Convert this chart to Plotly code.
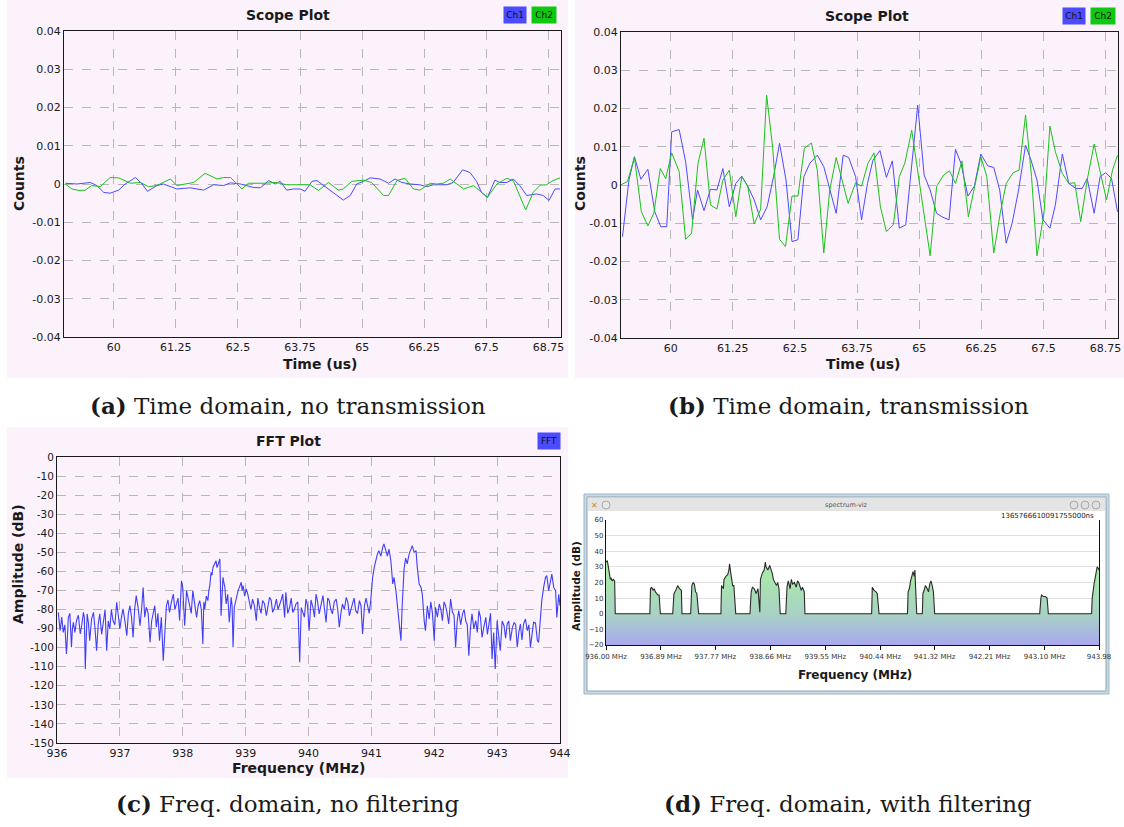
import plotly.graph_objects as go

W, H = 1124, 827
def fx(p): return p / W
def fy(p): return 1 - p / H

# ---------------- data ----------------
time_ticks = [60, 61.25, 62.5, 63.75, 65, 66.25, 67.5, 68.75]
time_tick_labels = ["60", "61.25", "62.5", "63.75", "65", "66.25", "67.5", "68.75"]
count_ticks = [0.04, 0.03, 0.02, 0.01, 0, -0.01, -0.02, -0.03, -0.04]
count_tick_labels = ["0.04", "0.03", "0.02", "0.01", "0", "-0.01", "-0.02", "-0.03", "-0.04"]

# (a) no transmission
a_t_ch1 = [59.03, 59.26, 59.53, 59.66, 59.80, 59.93, 60.10, 60.23, 60.44, 60.57, 60.68, 60.87, 61.00,
           61.27, 61.54, 61.81, 62.01, 62.21, 62.35, 62.55, 62.81, 62.95, 63.12, 63.25, 63.35, 63.48,
           63.62, 63.75, 63.85, 63.99, 64.09, 64.22, 64.42, 64.62, 64.76, 64.89, 65.03, 65.16, 65.36,
           65.53, 65.66, 65.80, 65.96, 66.16, 66.30, 66.43, 66.70, 66.83, 67.02, 67.17, 67.30, 67.40,
           67.52, 67.67, 67.77, 67.91, 68.04, 68.17, 68.31, 68.51, 68.64, 68.76, 68.88, 68.98]
a_ch1 = [0.0002, 0, 0.0004, -0.0004, -0.0022, -0.0024, -0.0016, 0, 0.0017, 0, -0.0019, -0.0004, 0,
         -0.0013, -0.001, -0.0016, -0.0002, -0.0004, 0.0003, 0, -0.0009, -0.001, 0.0009, 0, 0.0007,
         -0.0016, -0.0013, -0.0013, -0.0019, 0.0007, 0.0009, -0.0004, -0.0024, -0.0042, -0.003, 0,
         0.0007, 0.0016, 0.0013, 0.0002, 0.0013, 0.0004, 0, -0.0002, -0.0007, -0.0002, -0.0002, 0.0004,
         0.0037, 0.003, 0.0007, -0.0022, -0.0035, 0.001, 0.0004, 0.0004, 0.0013, -0.0004, -0.003,
         -0.0026, -0.003, -0.0043, -0.0013, -0.0013]
a_t_ch2 = [59.03, 59.16, 59.30, 59.43, 59.56, 59.73, 59.93, 60.10, 60.34, 60.54, 60.70, 60.87, 61.14,
           61.27, 61.44, 61.61, 61.84, 62.08, 62.21, 62.35, 62.58, 62.71, 63.02, 63.28, 63.48, 63.75,
           63.95, 64.12, 64.32, 64.52, 64.62, 64.79, 65.03, 65.19, 65.43, 65.53, 65.70, 65.86, 66.03,
           66.16, 66.37, 66.50, 66.63, 66.77, 66.90, 67.04, 67.24, 67.40, 67.52, 67.71, 67.91, 68.04,
           68.17, 68.29, 68.44, 68.58, 68.71, 68.84, 68.98]
a_ch2 = [0, -0.0013, -0.0017, -0.0016, -0.0004, -0.0007, 0.0017, 0.0016, 0.0002, 0.0004, -0.0007,
         -0.0004, 0.0013, -0.0004, 0, 0.0004, 0.0028, 0.0013, 0.0017, 0.0017, -0.0013, 0.0002, 0.0002,
         0.0004, -0.0002, -0.0002, -0.0002, -0.0017, 0.0004, -0.0016, -0.0013, 0.0007, 0.001, 0.0004,
         -0.003, -0.003, 0.0009, 0.0015, -0.0013, -0.0016, 0.0002, 0, 0.0002, 0.0013, 0, -0.0013,
         -0.0004, -0.0022, -0.0035, 0, 0.0015, 0.0009, -0.003, -0.0068, -0.0022, -0.0003, -0.0002,
         0.0009, 0.0016]

# (b) transmission
b_t_ch1 = [59.03, 59.16, 59.27, 59.40, 59.54, 59.68, 59.80, 59.92, 60.02, 60.17, 60.30, 60.44, 60.54,
           60.67, 60.80, 60.93, 61.05, 61.18, 61.31, 61.43, 61.55, 61.68, 61.81, 61.94, 62.07, 62.19,
           62.32, 62.44, 62.56, 62.68, 62.80, 62.95, 63.08, 63.20, 63.33, 63.47, 63.58, 63.72, 63.84,
           63.96, 64.07, 64.21, 64.34, 64.46, 64.60, 64.73, 64.97, 65.10, 65.22, 65.35, 65.47, 65.60,
           65.73, 65.84, 65.98, 66.11, 66.24, 66.38, 66.50, 66.62, 66.75, 66.87, 67.00, 67.14, 67.25,
           67.37, 67.49, 67.63, 67.74, 67.88, 68.01, 68.15, 68.28, 68.38, 68.52, 68.64, 68.75, 68.87,
           68.99]
b_ch1 = [-0.0135, 0.0013, 0.0074, 0.0015, 0.0041, -0.007, -0.0109, -0.0109, 0.0139, 0.0145, 0.0061,
         -0.0091, -0.0013, -0.0067, -0.0011, -0.0013, 0.0043, -0.0057, 0.0004, 0.0023, -0.0003,
         -0.0039, -0.0091, -0.0057, 0.0022, 0.0109, 0.0013, -0.0148, -0.0143, 0.0022, 0.0057, 0.0078,
         0.0048, -0.0013, -0.0074, 0.0078, 0.0072, 0.0022, -0.0091, 0.0004, 0.0065, 0.009, 0.002,
         0.0063, -0.0113, -0.0104, 0.0209, 0.0026, -0.0013, -0.0074, -0.0084, -0.0091, 0.0093, 0.0057,
         -0.0029, -0.0003, 0.0081, 0.005, 0.0046, -0.0013, -0.0152, -0.01, -0.0013, 0.0104, 0.0065,
         0.0013, -0.0091, -0.0113, -0.0052, 0.0081, 0.0004, -0.0009, -0.0009, 0.0017, -0.0074, 0.0022,
         0.0032, 0.0017, -0.007]
b_t_ch2 = [58.99, 59.13, 59.27, 59.41, 59.54, 59.66, 59.79, 59.90, 60.02, 60.17, 60.30, 60.42, 60.55,
           60.67, 60.80, 60.93, 61.05, 61.18, 61.31, 61.43, 61.55, 61.68, 61.81, 61.93, 62.05, 62.19,
           62.31, 62.44, 62.56, 62.69, 62.83, 62.95, 63.08, 63.20, 63.33, 63.45, 63.57, 63.72, 63.84,
           63.97, 64.09, 64.22, 64.34, 64.48, 64.60, 64.71, 64.85, 65.22, 65.35, 65.49, 65.61, 65.73,
           65.86, 65.99, 66.11, 66.24, 66.36, 66.50, 66.63, 66.75, 66.89, 67.01, 67.14, 67.26, 67.37,
           67.51, 67.63, 67.74, 67.88, 68.01, 68.13, 68.25, 68.38, 68.52, 68.64, 68.77, 68.89, 68.99]
b_ch2 = [0, 0.0009, 0.0072, -0.007, -0.0107, -0.0074, 0.0043, 0.0017, 0.0084, 0.0035, -0.0142,
         -0.0126, 0.0057, 0.0122, -0.0052, -0.0063, 0.0013, 0.0039, -0.0083, 0.0022, -0.0003, -0.0102,
         -0.0063, 0.0235, 0.01, -0.0142, -0.0161, -0.0029, -0.0029, 0.0096, 0.011, 0.0039, -0.0178,
         -0.0013, 0.0072, 0.0013, -0.0048, 0.0006, -0.0003, 0.0057, 0.0084, -0.0057, -0.0122, -0.0104,
         0.0022, 0.0057, 0.0143, -0.0185, -0.0004, 0.0026, 0.0037, 0.0004, 0.0063, -0.0083, -0.0004,
         0.0074, 0.0022, -0.0178, -0.0074, 0.0004, 0.0032, 0.0039, 0.0183, 0.0022, -0.0185, -0.0074,
         0.0154, 0.0087, 0.003, 0.0004, 0.0006, -0.0096, 0.0013, 0.0107, 0.0035, -0.0039, 0.0039, 0.0078]

# (c) FFT, no filtering (two passes of readings, merged by frequency)
fft_ticks = [936, 937, 938, 939, 940, 941, 942, 943, 944]
db_ticks = [0, -10, -20, -30, -40, -50, -60, -70, -80, -90, -100, -110, -120, -130, -140, -150]
fft_freq = [936.02, 936.05, 936.10, 936.15, 936.18, 936.23, 936.26, 936.31, 936.37, 936.42, 936.45,
            936.48, 936.52, 936.58, 936.63, 936.68, 936.74, 936.79, 936.84, 936.89, 936.95, 937.00,
            937.05, 937.11, 937.16, 937.21, 937.26, 937.32, 937.37, 937.42, 937.48, 937.53, 937.58,
            937.63, 937.69, 937.74, 937.79, 937.85, 937.90, 937.95, 937.98, 938.00, 938.03, 938.06,
            938.11, 938.16, 938.22, 938.27, 938.32, 938.35, 938.40, 938.43, 938.45, 938.48, 938.53,
            938.56, 938.59, 938.61, 938.64, 938.67, 938.69, 938.74, 938.77, 938.80, 938.82, 938.88,
            938.93, 938.96, 939.01, 939.06, 939.11, 939.17, 939.22, 939.27, 939.33, 939.38, 939.43,
            939.49, 939.54, 939.59, 939.62, 939.64, 939.70, 939.75, 939.80, 939.86, 939.91, 939.96,
            940.01, 940.07, 940.12, 940.17, 940.23, 940.28, 940.33, 940.38, 940.44, 940.49, 940.54,
            940.60, 940.65, 940.70, 940.75, 940.81, 940.86, 940.89, 940.94, 940.99, 941.02, 941.07,
            941.12, 941.18, 941.20, 941.23, 941.28, 941.31, 941.34, 941.36, 941.39, 941.41, 941.44,
            941.47, 941.49, 941.52, 941.57, 941.60, 941.63, 941.65, 941.68, 941.71, 941.73, 941.76,
            941.79, 941.81, 941.84, 941.86, 941.89, 941.92, 941.97, 942.00, 942.02, 942.08, 942.13,
            942.18, 942.23, 942.26, 942.29, 942.34, 942.39, 942.45, 942.50, 942.55, 942.60, 942.66,
            942.71, 942.76, 942.82, 942.87, 942.92, 942.97, 943.00, 943.05, 943.11, 943.16, 943.21,
            943.27, 943.32, 943.37, 943.42, 943.48, 943.53, 943.58, 943.64, 943.66, 943.69, 943.71,
            943.74, 943.77, 943.79, 943.82, 943.85, 943.87, 943.90, 943.93, 943.95, 943.98, 944.00]
fft_db = [-81.5, -91.1, -92.0, -103.3, -84.1, -99.8, -86.7, -85.8, -92.8, -81.5, -111.2,
          -82.3, -96.3, -81.5, -101.6, -82.3, -85.0, -101.6, -90.2, -85.8, -76.2, -90.2,
          -79.7, -93.7, -78.0, -94.6, -72.7, -88.5, -68.4, -78.8, -97.2, -81.5, -89.3,
          -96.3, -106.8, -78.0, -81.5, -71.9, -77.1, -85.8, -64.9, -68.4, -88.5, -70.1,
          -78.8, -70.1, -84.1, -75.3, -98.1, -79.7, -75.3, -67.5, -60.5, -57.9, -54.4,
          -56.1, -53.5, -83.2, -63.1, -68.4, -77.1, -86.7, -73.6, -99.8, -78.8, -70.1,
          -65.7, -67.5, -69.2, -77.1, -74.5, -85.8, -78.8, -75.3, -83.2, -73.6, -81.5,
          -74.5, -78.0, -71.9, -84.1, -71.0, -78.8, -81.5, -77.1, -107.7, -81.5, -74.5,
          -91.1, -78.8, -71.9, -82.3, -72.7, -86.7, -75.3, -82.3, -74.5, -89.3, -77.1,
          -73.6, -83.2, -77.1, -80.6, -75.3, -92.8, -78.0, -78.8, -75.3, -63.1, -54.4,
          -49.1, -47.4, -45.6, -49.1, -48.3, -54.4, -66.6, -63.1, -70.1, -76.2, -84.1,
          -96.3, -78.0, -58.7, -56.1, -50.9, -47.4, -46.5, -50.0, -49.1, -57.9, -66.6,
          -68.4, -71.9, -85.8, -91.1, -78.0, -85.0, -81.5, -96.3, -78.8, -77.1, -85.8,
          -78.0, -87.6, -74.5, -81.5, -99.8, -80.6, -82.3, -85.8, -104.2, -82.3, -85.8,
          -80.6, -94.6, -84.1, -87.6, -105.9, -111.2, -85.8, -101.6, -88.5, -87.6, -96.3,
          -86.7, -99.8, -87.6, -87.6, -91.1, -99.8, -86.7, -96.3, -97.2, -82.3, -75.3,
          -68.4, -63.1, -62.2, -70.1, -64.9, -61.4, -68.4, -70.1, -84.1, -72.0, -78.0]
fft_freq_extra = [936.035, 936.075, 936.125, 936.165, 936.205, 936.245, 936.285, 936.34, 936.395, 936.435,
                  936.465, 936.50, 936.55, 936.605, 936.655, 936.71, 936.765, 936.815, 936.865, 936.92,
                  936.975, 937.025, 937.08, 937.135, 937.185, 937.235, 937.29, 937.345, 937.395, 937.45,
                  937.505, 937.555, 937.605, 937.66, 937.715, 937.765, 937.82, 937.875, 937.925, 937.965,
                  938.015, 938.045, 938.085, 938.135, 938.19, 938.245, 938.295, 938.335, 938.375, 938.415,
                  938.465, 938.51, 938.545, 938.575, 938.655, 938.715, 938.755, 938.785, 938.85, 938.905,
                  938.945, 938.985, 939.035, 939.085, 939.14, 939.195, 939.245, 939.30, 939.355, 939.405,
                  939.46, 939.515, 939.565, 939.67, 939.725, 939.775, 939.83, 939.885, 939.935, 939.985,
                  940.04, 940.095, 940.145, 940.20, 940.255, 940.305, 940.355, 940.41, 940.465, 940.515,
                  940.57, 940.625, 940.675, 940.725, 940.78, 940.835, 940.915, 940.965, 941.045, 941.095,
                  941.15, 941.255, 941.545, 941.945, 942.05, 942.105, 942.155, 942.205, 942.315, 942.365,
                  942.42, 942.475, 942.525, 942.575, 942.63, 942.685, 942.735, 942.79, 942.845, 942.895,
                  942.945, 943.025, 943.08, 943.135, 943.185, 943.24, 943.295, 943.345, 943.395, 943.45,
                  943.505, 943.555, 943.61]
fft_db_extra = [-86, -84, -88, -95, -82, -90, -92, -83, -88, -84,
                -95, -87, -85, -90, -88, -93, -80, -86, -80, -88,
                -82, -84, -86, -82, -84, -80, -79, -80, -84, -82,
                -86, -78, -82, -84, -88, -75, -76, -80, -74, -76,
                -76, -80, -74, -82, -76, -78, -80, -76, -73, -70,
                -62, -56, -58, -55, -66, -72, -80, -78, -74, -68,
                -70, -73, -72, -80, -78, -74, -82, -77, -79, -75,
                -79, -80, -75, -82, -74, -80, -76, -79, -84, -78,
                -75, -84, -76, -78, -80, -74, -80, -76, -80, -82,
                -80, -76, -80, -74, -82, -78, -74, -82, -58, -51,
                -52, -52, -53, -76, -84, -80, -76, -82, -83, -86,
                -88, -80, -88, -90, -90, -92, -84, -89, -93, -82,
                -92, -94, -86, -95, -86, -90, -88, -92, -96, -85,
                -88, -93, -87]

# (d) FFT with filtering
viz_tick_labels = ["936.00 MHz", "936.89 MHz", "937.77 MHz", "938.66 MHz", "939.55 MHz",
                   "940.44 MHz", "941.32 MHz", "942.21 MHz", "943.10 MHz", "943.98"]
viz_tick_vals = [936.00, 936.89, 937.77, 938.66, 939.55, 940.44, 941.32, 942.21, 943.10, 943.98]
viz_freq = [936.00, 936.02, 936.03, 936.05, 936.07, 936.08, 936.10, 936.12, 936.14, 936.15,
            936.71, 936.72, 936.74, 936.76, 936.78, 936.80, 936.82, 936.84, 936.86, 936.88,
            937.08, 937.10, 937.13, 937.16, 937.19, 937.22, 937.23,
            937.37, 937.39, 937.41, 937.43, 937.45, 937.47, 937.50,
            937.86, 937.87, 937.90, 937.91, 937.94, 937.97, 937.99, 938.00, 938.02, 938.04, 938.05, 938.07, 938.10,
            938.33, 938.35, 938.37, 938.40, 938.43, 938.46, 938.47, 938.49, 938.50, 938.53, 938.56, 938.58,
            938.59, 938.62, 938.65, 938.66, 938.69, 938.71, 938.74, 938.76, 938.78, 938.80, 938.82,
            938.91, 938.93, 938.95, 938.98, 939.00, 939.02, 939.05, 939.08, 939.10, 939.12, 939.14, 939.16,
            939.18, 939.21, 939.22,
            940.30, 940.31, 940.34, 940.37, 940.39, 940.42,
            940.88, 940.89, 940.91, 940.93, 940.95, 940.97, 940.99, 941.00, 941.01, 941.03,
            941.12, 941.13, 941.15, 941.17, 941.20, 941.22, 941.24, 941.26, 941.28, 941.30, 941.32,
            943.02, 943.04, 943.05, 943.08, 943.11, 943.14, 943.16,
            943.86, 943.87, 943.90, 943.93, 943.95, 943.97, 943.98]
viz_db = [33, 34, 32, 25, 22, 23, 21, 22, 21, 0,
          0, 16, 17, 15, 16, 14, 13, 12, 12, 0,
          0, 13, 15, 18, 16, 15, 0,
          0, 18, 20, 19, 14, 13, 0,
          0, 18, 16, 22, 24, 25, 28, 32, 26, 22, 18, 18, 0,
          0, 14, 17, 16, 13, 16, 11, 1, 22, 26, 28, 33,
          30, 28, 31, 30, 26, 22, 20, 18, 20, 16, 0,
          0, 17, 21, 16, 22, 19, 20, 17, 21, 20, 18, 15,
          17, 14, 0,
          0, 17, 15, 14, 13, 0,
          0, 14, 16, 21, 25, 27, 24, 28, 18, 0,
          0, 13, 15, 18, 16, 14, 19, 21, 18, 14, 0,
          0, 10, 12, 11, 11, 10, 0,
          0, 10, 19, 26, 30, 29, 28]
viz_floor = [-20, -20]
viz_floor_freq = [936.00, 943.98]

# ---------------- style ----------------
PINK = "#fcf2fb"
BLUE = "#4b4bff"
GREEN = "#16c416"
GRID = "#b8b8b8"
FONT = "DejaVu Sans"
INK = "#1a1a1a"

fft_pairs = sorted(zip(fft_freq + fft_freq_extra, fft_db + fft_db_extra))
fft_x = [p[0] for p in fft_pairs]
fft_y = [p[1] for p in fft_pairs]

fig = go.Figure()

fig.add_trace(go.Scatter(x=a_t_ch1, y=a_ch1, mode="lines", line=dict(color=BLUE, width=1), xaxis="x", yaxis="y"))
fig.add_trace(go.Scatter(x=a_t_ch2, y=a_ch2, mode="lines", line=dict(color=GREEN, width=1), xaxis="x", yaxis="y"))
fig.add_trace(go.Scatter(x=b_t_ch1, y=b_ch1, mode="lines", line=dict(color=BLUE, width=1), xaxis="x2", yaxis="y2"))
fig.add_trace(go.Scatter(x=b_t_ch2, y=b_ch2, mode="lines", line=dict(color=GREEN, width=1), xaxis="x2", yaxis="y2"))
fig.add_trace(go.Scatter(x=fft_x, y=fft_y, mode="lines", line=dict(color="#3f3ff5", width=1.1), xaxis="x3", yaxis="y3"))
fig.add_trace(go.Scatter(x=viz_floor_freq, y=viz_floor, mode="lines", line=dict(width=0), xaxis="x4", yaxis="y4"))
fig.add_trace(go.Scatter(x=viz_freq, y=viz_db, mode="lines", line=dict(color="#2b2b2b", width=1.1),
                         fill="tonexty",
                         fillgradient=dict(type="vertical", start=-20, stop=35,
                                           colorscale=[[0, "#aaa8f0"], [0.36, "#a8d2c4"], [1, "#a9f0a0"]]),
                         xaxis="x4", yaxis="y4"))

def frame_axis(**kw):
    d = dict(showline=True, linecolor=INK, linewidth=1, mirror=True, ticks="", automargin=False,
             showgrid=True, gridcolor=GRID, griddash="dash", gridwidth=1, zeroline=False,
             tickfont=dict(family=FONT, size=11, color=INK))
    d.update(kw)
    return d

layout = dict(
    width=W, height=H, margin=dict(l=0, r=0, t=0, b=0, pad=0, autoexpand=False),
    paper_bgcolor="white", plot_bgcolor="rgba(0,0,0,0)", showlegend=False,
    xaxis=frame_axis(domain=[fx(64), fx(561)], range=[59, 69], tickvals=time_ticks, ticktext=time_tick_labels, anchor="y"),
    yaxis=frame_axis(domain=[fy(337), fy(31)], range=[-0.04, 0.04], tickvals=count_ticks, ticktext=count_tick_labels, anchor="x"),
    xaxis2=frame_axis(domain=[fx(621), fx(1118)], range=[59, 69], tickvals=time_ticks, ticktext=time_tick_labels, anchor="y2"),
    yaxis2=frame_axis(domain=[fy(338), fy(32)], range=[-0.04, 0.04], tickvals=count_ticks, ticktext=count_tick_labels, anchor="x2"),
    xaxis3=frame_axis(domain=[fx(57), fx(560)], range=[936, 944], tickvals=fft_ticks, ticktext=[str(v) for v in fft_ticks], anchor="y3"),
    yaxis3=frame_axis(domain=[fy(743), fy(457)], range=[-150, 0], tickvals=db_ticks, ticktext=[str(v) for v in db_ticks], anchor="x3",
                      tickfont=dict(family=FONT, size=10.5, color=INK)),
    xaxis4=dict(domain=[fx(606), fx(1099)], range=[936.0, 943.98], tickvals=viz_tick_vals, ticktext=viz_tick_labels,
                showline=True, linecolor="#111", linewidth=1.2, ticks="outside", ticklen=4, tickcolor="#111",
                showgrid=False, zeroline=False, anchor="y4", automargin=False,
                tickfont=dict(family=FONT, size=7, color="#333")),
    yaxis4=dict(domain=[fy(645), fy(520)], range=[-20, 60], dtick=10, showline=True, linecolor="#111", linewidth=1.2,
                mirror=True, ticks="", showgrid=True, gridcolor="#e2e2e2", zeroline=False, anchor="x4", automargin=False,
                tickfont=dict(family=FONT, size=7, color="#333")),
)

def rect(x0, y0, x1, y1, fill, line=None, lw=0, layer="below"):
    return dict(type="rect", xref="paper", yref="paper", x0=fx(x0), x1=fx(x1), y0=fy(y1), y1=fy(y0),
                fillcolor=fill, line=dict(color=line or fill, width=lw), layer=layer)

def circ(cx, cy, r, fill, line):
    return dict(type="circle", xref="paper", yref="paper", x0=fx(cx - r), x1=fx(cx + r), y0=fy(cy + r), y1=fy(cy - r),
                fillcolor=fill, line=dict(color=line, width=0.8), layer="above")

shapes = [
    rect(7, 0, 568, 378, PINK),
    rect(575, 0, 1124, 378, PINK),
    rect(7, 427, 568, 778, PINK),
    rect(584, 494, 1109, 694, "#c9d9e2", "#9db7c6", 1),
    rect(587, 497, 1106, 691, "white", "#8aa5b5", 1),
    rect(588, 498, 1105, 511, "#e4e4e4"),
    circ(606, 505, 4, "#e8e8e8", "#999"),
    circ(1074, 505, 4, "#e0e0e0", "#999"),
    circ(1085, 505, 4, "#e0e0e0", "#999"),
    circ(1096, 505, 4, "#e0e0e0", "#999"),
]
layout["shapes"] = shapes

def ann(x, y, text, size, color=INK, family=FONT, angle=0, xanchor="center", **kw):
    d = dict(xref="paper", yref="paper", x=fx(x), y=fy(y), text=text, showarrow=False, textangle=angle,
             xanchor=xanchor, yanchor="middle", font=dict(family=family, size=size, color=color))
    d.update(kw)
    return d

def badge(x, y, text, bg, w):
    return ann(x, y, text, 9, color="#111", bgcolor=bg, width=w, height=16, borderpad=0)

serif = "DejaVu Serif"
annotations = [
    ann(288, 15, "<b>Scope Plot</b>", 14),
    badge(515, 15, "Ch1", BLUE, 22), badge(544, 15, "Ch2", "#10c810", 24),
    ann(19, 184, "<b>Counts</b>", 14, angle=-90),
    ann(320, 364, "<b>Time (us)</b>", 14),
    ann(867, 16, "<b>Scope Plot</b>", 14),
    badge(1074, 16, "Ch1", BLUE, 22), badge(1103, 16, "Ch2", "#10c810", 24),
    ann(580, 184, "<b>Counts</b>", 14, angle=-90),
    ann(863, 364, "<b>Time (us)</b>", 14),
    ann(288, 441, "<b>FFT Plot</b>", 14),
    badge(549, 441, "FFT", BLUE, 22),
    ann(18, 564, "<b>Amplitude (dB)</b>", 14, angle=-90),
    ann(298, 768, "<b>Frequency (MHz)</b>", 14),
    ann(846, 505, "spectrum-viz", 6.5, color="#555"),
    ann(594, 505, "<b>✕</b>", 8, color="#d98a20"),
    ann(1096, 516, "1365766610091755000ns", 7, color="#222", xanchor="right"),
    ann(855, 675, "<b>Frequency (MHz)</b>", 12),
    ann(576, 586, "<b>Amplitude (dB)</b>", 10.5, angle=-90),
    ann(288, 406, "<b>(a)</b> Time domain, no transmission", 23, family=serif),
    ann(848, 406, "<b>(b)</b> Time domain, transmission", 23, family=serif),
    ann(288, 803, "<b>(c)</b> Freq. domain, no filtering", 23, family=serif),
    ann(848, 803, "<b>(d)</b> Freq. domain, with filtering", 23, family=serif),
]
layout["annotations"] = annotations

fig.update_layout(**layout)
fig.write_html("out.html")
